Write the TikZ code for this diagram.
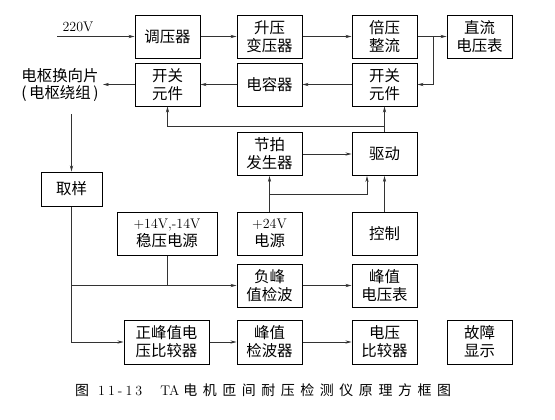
\documentclass[tikz,border=0pt]{standalone}
\usepackage{fontspec}
\newfontfamily\cjk{Noto Sans CJK SC}
\newfontfamily\cjkcap{Noto Sans CJK SC}[LetterSpace=40]
\newfontfamily\lmcap{Latin Modern Roman}[LetterSpace=22]
\usetikzlibrary{arrows.meta}
\begin{document}
\begin{tikzpicture}[x=1bp,y=-1bp,
  box/.style={draw, line width=1bp, minimum width=65bp, minimum height=43bp, inner sep=0pt, align=center, font=\cjk\fontsize{15.5}{18}\selectfont},
  lbl/.style={inner sep=0pt, align=center, font=\cjk\fontsize{15.5}{18}\selectfont},
  conn/.style={line width=0.6bp, draw=black!80},
  arr/.style={conn, -{Stealth[length=6bp,width=3.2bp]}}]
\useasboundingbox (0,0) rectangle (555,419);

% row 1
\node[box] (tiaoya) at (167.5,36.5) {调压器};
\node[box] (shengya) at (269.5,36.5) {升压\\变压器};
\node[box] (beiya) at (384.5,36.5) {倍压\\整流};
\node[box] (zhiliu) at (479.5,36.5) {直流\\电压表};
% row 2
\node[box] (kg1) at (167.5,84.5) {开关\\元件};
\node[box] (dianrong) at (269.5,84.5) {电容器};
\node[box] (kg2) at (384.5,84.5) {开关\\元件};
% row 3
\node[box] (jiepai) at (269.5,154) {节拍\\发生器};
\node[box] (qudong) at (384.5,154) {驱动};
\node[box, minimum width=61bp, minimum height=34bp] (quyang) at (71.5,189) {取样};
% row 4
\node[box, minimum width=100bp] (wenya) at (167,233.5) {{\rmfamily\fontsize{14}{18}\selectfont +14V,-14V}\\稳压电源};
\node[box] (p24) at (269.5,233.5) {{\rmfamily\fontsize{14}{18}\selectfont +24V}\\电源};
\node[box] (kongzhi) at (384.5,233.5) {控制};
% row 5
\node[box] (fufeng) at (269.5,285.5) {负峰\\值检波};
\node[box] (fengzhi) at (384.5,285.5) {峰值\\电压表};
% row 6
\node[box, minimum width=85bp, minimum height=44bp] (zheng) at (166.5,342) {正峰值电\\压比较器};
\node[box, minimum height=44bp] (jianbo) at (269.5,342) {峰值\\检波器};
\node[box, minimum height=44bp] (bijiao) at (384.5,342) {电压\\比较器};
\node[box, minimum height=44bp] (guzhang) at (479.5,342) {故障\\显示};

% armature label
\node[lbl] (dianshu) at (60,85) {电枢换向片\\(\,电枢绕组\,)};
\node[inner sep=0pt, font=\fontsize{14}{16}\selectfont] (v220) at (78,27) {220V};

\coordinate (in) at (57,36.5);
\coordinate (split) at (433,36.5);
\coordinate (busR) at (384.5,126);
\coordinate (busL) at (167.5,126);
\coordinate (p24j) at (269.5,194);
\coordinate (qd) at (367,194);
\coordinate (armOut) at (103,84.5);
\coordinate (armDown) at (71.5,114);
\coordinate (sampMid) at (71.5,285.5);
\coordinate (wyDown) at (167,285.5);

\draw[arr] (in) -- (tiaoya.west);
\draw[arr] (tiaoya) -- (shengya);
\draw[arr] (shengya) -- (beiya);
\draw[arr] (beiya) -- (zhiliu);
\draw[arr] (split) |- (kg2.east);
\draw[arr] (kg2) -- (dianrong);
\draw[arr] (dianrong) -- (kg1);
\draw[arr] (kg1.west) -- (armOut);
\draw[arr] (qudong.north) -- (kg2.south);
\draw[arr] (busR) -- (busL) -- (kg1.south);
\draw[arr] (jiepai) -- (qudong);
\draw[arr] (p24.north) -- (jiepai.south);
\draw[arr] (p24j) -| (qd |- qudong.south);
\draw[arr] (kongzhi.north) -- (qudong.south);
\draw[arr] (armDown) -- (quyang.north);
\draw[arr] (quyang.south) |- (zheng.west);
\draw[arr] (sampMid) -- (fufeng.west);
\draw[conn] (wenya.south) -- (wyDown);
\draw[arr] (fufeng) -- (fengzhi);
\draw[arr] (zheng) -- (jianbo);
\draw[arr] (jianbo) -- (bijiao);

% caption
\node[inner sep=0pt, anchor=west, font=\cjkcap\fontsize{14}{16}\selectfont] (cap) at (75,390) {图\hspace{9bp}{\lmcap\fontsize{14}{16}\selectfont 11-13}\hspace{18bp}{\rmfamily\fontsize{14}{16}\selectfont TA}\hspace{4bp}电机匝间耐压检测仪原理方框图};
\end{tikzpicture}
\end{document}
